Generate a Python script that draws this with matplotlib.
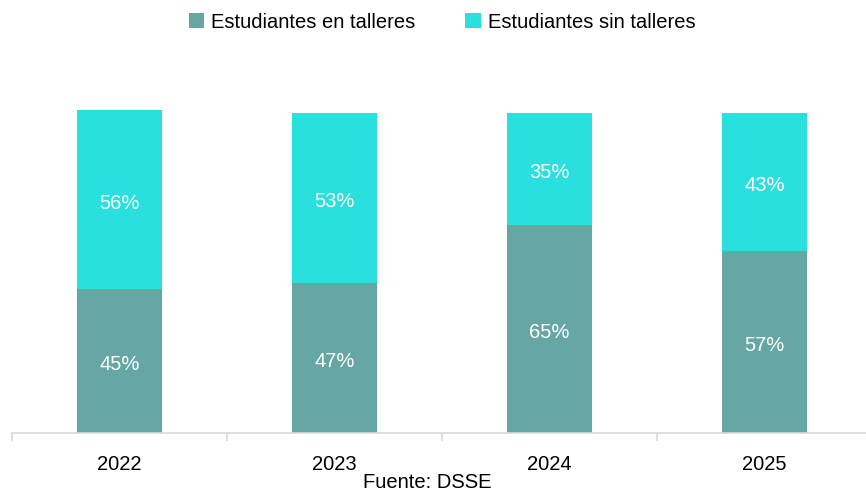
import matplotlib
matplotlib.use("Agg")
import matplotlib.pyplot as plt

# 数据
years = ["2022", "2023", "2024", "2025"]
con_talleres = [45, 47, 65, 57]
sin_talleres = [56, 53, 35, 43]
serie_labels = ["Estudiantes en talleres", "Estudiantes sin talleres"]
colores = ["#66A6A4", "#29E0DF"]

plt.rcParams["font.family"] = ["Liberation Sans", "DejaVu Sans"]
fs = 14.5

fig = plt.figure(figsize=(8.66, 4.92), dpi=100)
ax = fig.add_axes([12 / 866, 59 / 492, 860 / 866, 352 / 492])

x = range(len(years))
b1 = ax.bar(x, con_talleres, width=0.395, color=colores[0], label=serie_labels[0])
b2 = ax.bar(x, sin_talleres, width=0.395, bottom=con_talleres, color=colores[1], label=serie_labels[1])

# 柱内百分比标签
for bars, vals, bottoms in [(b1, con_talleres, [0] * 4), (b2, sin_talleres, con_talleres)]:
    for rect, v, b in zip(bars, vals, bottoms):
        ax.text(rect.get_x() + rect.get_width() / 2, b + v / 2 - 1.2, f"{v}%",
                ha="center", va="center", color="white", fontsize=fs)

ax.set_xlim(-0.5, 3.5)
ax.set_ylim(0, 110)
ax.set_xticks([-0.5, 0.5, 1.5, 2.5], minor=False)
ax.set_xticklabels([])
ax.set_xticks(list(x), minor=True)
ax.set_xticklabels(years, minor=True, fontsize=fs)
ax.tick_params(axis="x", which="major", length=6, color="#D9D9D9", width=1.2)
ax.tick_params(axis="x", which="minor", length=0, pad=16)
ax.set_yticks([])
for s in ["top", "right", "left"]:
    ax.spines[s].set_visible(False)
ax.spines["bottom"].set_color("#D9D9D9")
ax.spines["bottom"].set_linewidth(1.2)

fig.legend(loc="center", bbox_to_anchor=(442 / 866, 1 - 22 / 492), ncol=2, frameon=False,
           fontsize=fs, handlelength=0.75, handleheight=0.75, handletextpad=0.35, columnspacing=2.5)
fig.text(427 / 866, 1 - 483 / 492, "Fuente: DSSE", ha="center", va="center", fontsize=fs)

plt.savefig("out.png", dpi=100)
plt.close()
